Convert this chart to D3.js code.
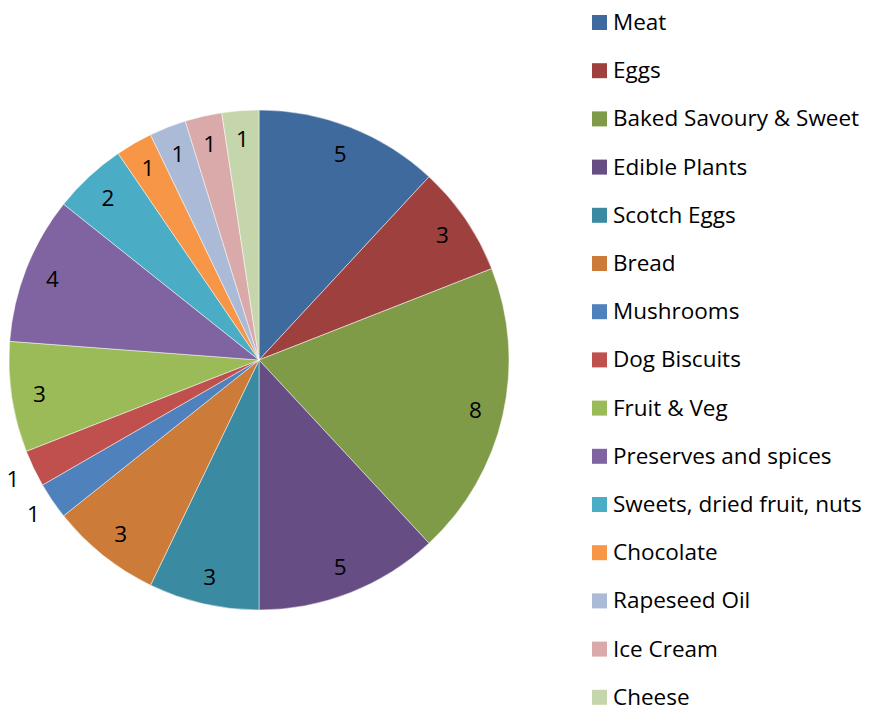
<!DOCTYPE html>
<html>
<head>
<meta charset="utf-8">
<script src="https://cdn.jsdelivr.net/npm/d3@7"></script>
<style>
  html, body { margin: 0; padding: 0; background: #fff; }
  svg { display: block; }
  text { font-family: "Open Sans", Lato, sans-serif; fill: #000; }
</style>
</head>
<body>
<svg id="chart" width="876" height="713"></svg>
<script>
// Food categories and their counts
const categories = [
  "Meat", "Eggs", "Baked Savoury & Sweet", "Edible Plants", "Scotch Eggs",
  "Bread", "Mushrooms", "Dog Biscuits", "Fruit & Veg", "Preserves and spices",
  "Sweets, dried fruit, nuts", "Chocolate", "Rapeseed Oil", "Ice Cream", "Cheese"
];
const values = [5, 3, 8, 5, 3, 3, 1, 1, 3, 4, 2, 1, 1, 1, 1];
const colors = [
  "#3f6a9d", "#9e413e", "#7f9b48", "#664e84", "#3a8ba2",
  "#cc7b38", "#4f81bd", "#c0504d", "#9bbb59", "#8064a2",
  "#4bacc6", "#f79646", "#aabad7", "#d9aaa9", "#c6d6ac"
];
// Small slices whose label sits outside the pie
const outsideLabels = ["Mushrooms", "Dog Biscuits"];

const data = categories.map((c, i) => ({ name: c, value: values[i], color: colors[i] }));

const svg = d3.select("#chart");
const cx = 259, cy = 360, R = 250;

const pie = d3.pie().value(d => d.value).sort(null);
const arcs = pie(data);
const arc = d3.arc().innerRadius(0).outerRadius(R);
const labelArcIn = d3.arc().innerRadius(222).outerRadius(222);
const labelArcOut = d3.arc().innerRadius(273).outerRadius(273);

const g = svg.append("g").attr("transform", `translate(${cx},${cy})`);

g.selectAll("path.slice")
  .data(arcs)
  .join("path")
  .attr("class", "slice")
  .attr("d", arc)
  .attr("fill", d => d.data.color)
  .attr("stroke", "#ffffff")
  .attr("stroke-opacity", 0.6)
  .attr("stroke-width", 0.8);

g.selectAll("text.lbl")
  .data(arcs)
  .join("text")
  .attr("class", "lbl")
  .attr("transform", d => {
    const a = outsideLabels.includes(d.data.name) ? labelArcOut : labelArcIn;
    const [x, y] = a.centroid(d);
    return `translate(${x},${y})`;
  })
  .attr("text-anchor", "middle")
  .attr("dominant-baseline", "central")
  .style("font-size", "22.5px")
  .text(d => d.data.value);

// Legend
const legend = svg.append("g").attr("transform", "translate(592,15)");
const rowH = 48.2;
const rows = legend.selectAll("g.row")
  .data(data)
  .join("g")
  .attr("class", "row")
  .attr("transform", (d, i) => `translate(0,${i * rowH})`);

rows.append("rect")
  .attr("width", 15).attr("height", 15)
  .attr("fill", d => d.color);

rows.append("text")
  .attr("x", 21)
  .attr("y", 6.5)
  .attr("dominant-baseline", "central")
  .style("font-size", "22.5px")
  .text(d => d.name);
</script>
</body>
</html>
